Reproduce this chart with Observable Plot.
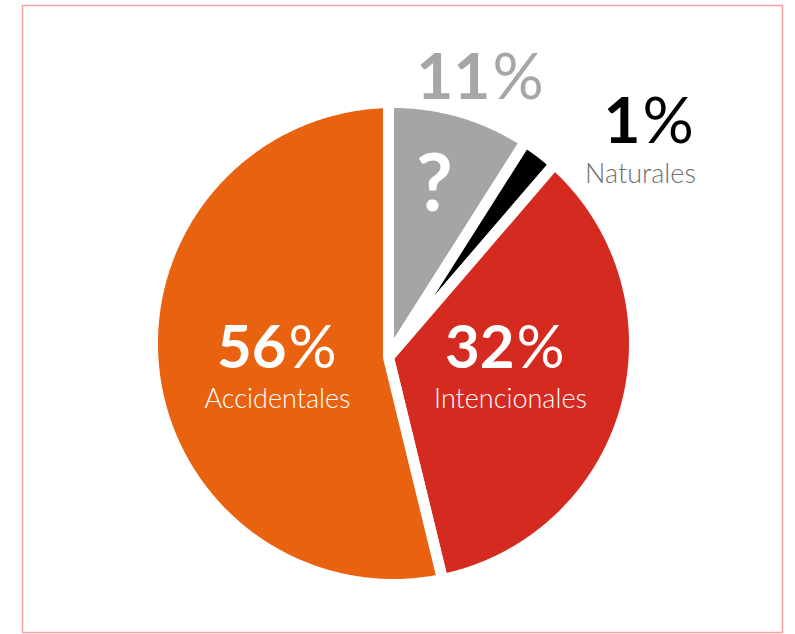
<!DOCTYPE html>
<html>
<head>
<meta charset="utf-8">
<script src="https://cdn.jsdelivr.net/npm/d3@7"></script>
<script src="https://cdn.jsdelivr.net/npm/@observablehq/plot@0.6"></script>
<style>
  html, body { margin: 0; padding: 0; background: #ffffff; }
  svg { display: block; }
</style>
</head>
<body>
<div id="chart"></div>
<script>
// ---- data ----
const categories = ["Desconocidas", "Naturales", "Intencionales", "Accidentales"];
const shares = [9.0, 2.3, 34.9, 53.8];           // slice sizes as drawn in the picture
const percentNumbers = ["11", "1", "32", "56"];  // printed percentages
const subLabels = ["?", "Naturales", "Intencionales", "Accidentales"];
const colors = ["#a5a5a5", "#000000", "#d52a1f", "#e8620f"];

// ---- layout (pixels, relative to pie centre, y up) ----
const pieCx = 393, pieCy = 343, R = 241, apex = [-5, -14], gap = 11;
const layout = [
  {num: [97, 245], numSize: 64, numFill: "#a6a6a6", sub: [41, 133], subSize: 80, subFill: "#ffffff", subWeight: 700},
  {num: [247, 201], numSize: 64, numFill: "#000000", sub: [247, 161], subSize: 27, subFill: "#707070", subWeight: 300},
  {num: [121, -24], numSize: 60, numFill: "#ffffff", sub: [117, -64], subSize: 27, subFill: "#ffffff", subWeight: 300},
  {num: [-107, -24], numSize: 60, numFill: "#ffffff", sub: [-116, -64], subSize: 27, subFill: "#ffffff", subWeight: 300}
];

// ---- slice geometry from shares ----
function hit(a) {
  const u = [Math.sin(a), Math.cos(a)];
  const b = apex[0] * u[0] + apex[1] * u[1];
  const c = apex[0] ** 2 + apex[1] ** 2 - R * R;
  const t = -b + Math.sqrt(b * b - c);
  return [apex[0] + t * u[0], apex[1] + t * u[1]];
}
const total = d3.sum(shares);
let acc = 0;
const slices = categories.map((cat, i) => {
  const a0 = acc / total * 2 * Math.PI;
  acc += shares[i];
  const a1 = acc / total * 2 * Math.PI;
  const q0 = hit(a0), q1 = hit(a1);
  const f0 = Math.atan2(q0[0], q0[1]);
  let f1 = Math.atan2(q1[0], q1[1]);
  while (f1 <= f0) f1 += 2 * Math.PI;
  const n = Math.max(2, Math.ceil((f1 - f0) / (Math.PI / 360)));
  const ring = [apex.slice()];
  for (let k = 0; k <= n; k++) {
    const f = f0 + (f1 - f0) * k / n;
    ring.push([R * Math.sin(f), R * Math.cos(f)]);
  }
  ring.push(apex.slice());
  return {type: "Feature", properties: {category: cat}, geometry: {type: "Polygon", coordinates: [ring]}};
});

const projection = d3.geoTransform({
  point(x, y) { this.stream.point(pieCx + x, pieCy - y); }
});

const font = "Lato, 'Open Sans', sans-serif";
const textMarks = categories.flatMap((cat, i) => {
  const L = layout[i];
  return [
    Plot.text([cat], {x: () => L.num[0], y: () => L.num[1], text: () => percentNumbers[i],
      textAnchor: "end", lineAnchor: "bottom", fontSize: L.numSize, fontWeight: 700,
      fontFamily: font, fill: L.numFill}),
    Plot.text([cat], {x: () => L.num[0] + 2, y: () => L.num[1], text: () => "%",
      textAnchor: "start", lineAnchor: "bottom", fontSize: L.numSize, fontWeight: 400,
      fontFamily: font, fill: L.numFill}),
    Plot.text([cat], {x: () => L.sub[0], y: () => L.sub[1], text: () => subLabels[i],
      textAnchor: "middle", lineAnchor: "bottom", fontSize: L.subSize, fontWeight: L.subWeight,
      fontFamily: font, fill: L.subFill})
  ];
});

const chart = Plot.plot({
  width: 795,
  height: 634,
  margin: 0,
  projection,
  color: {domain: categories, range: colors},
  style: {fontFamily: font, background: "#ffffff"},
  marks: [
    Plot.frame({stroke: "#f4a3a3", strokeWidth: 1.5, insetLeft: 22, insetRight: 13, insetTop: 5, insetBottom: 2}),
    Plot.geo(slices, {fill: d => d.properties.category, stroke: "#ffffff", strokeWidth: gap, strokeLinejoin: "round"}),
    ...textMarks
  ]
});
document.getElementById("chart").appendChild(chart);
</script>
</body>
</html>
